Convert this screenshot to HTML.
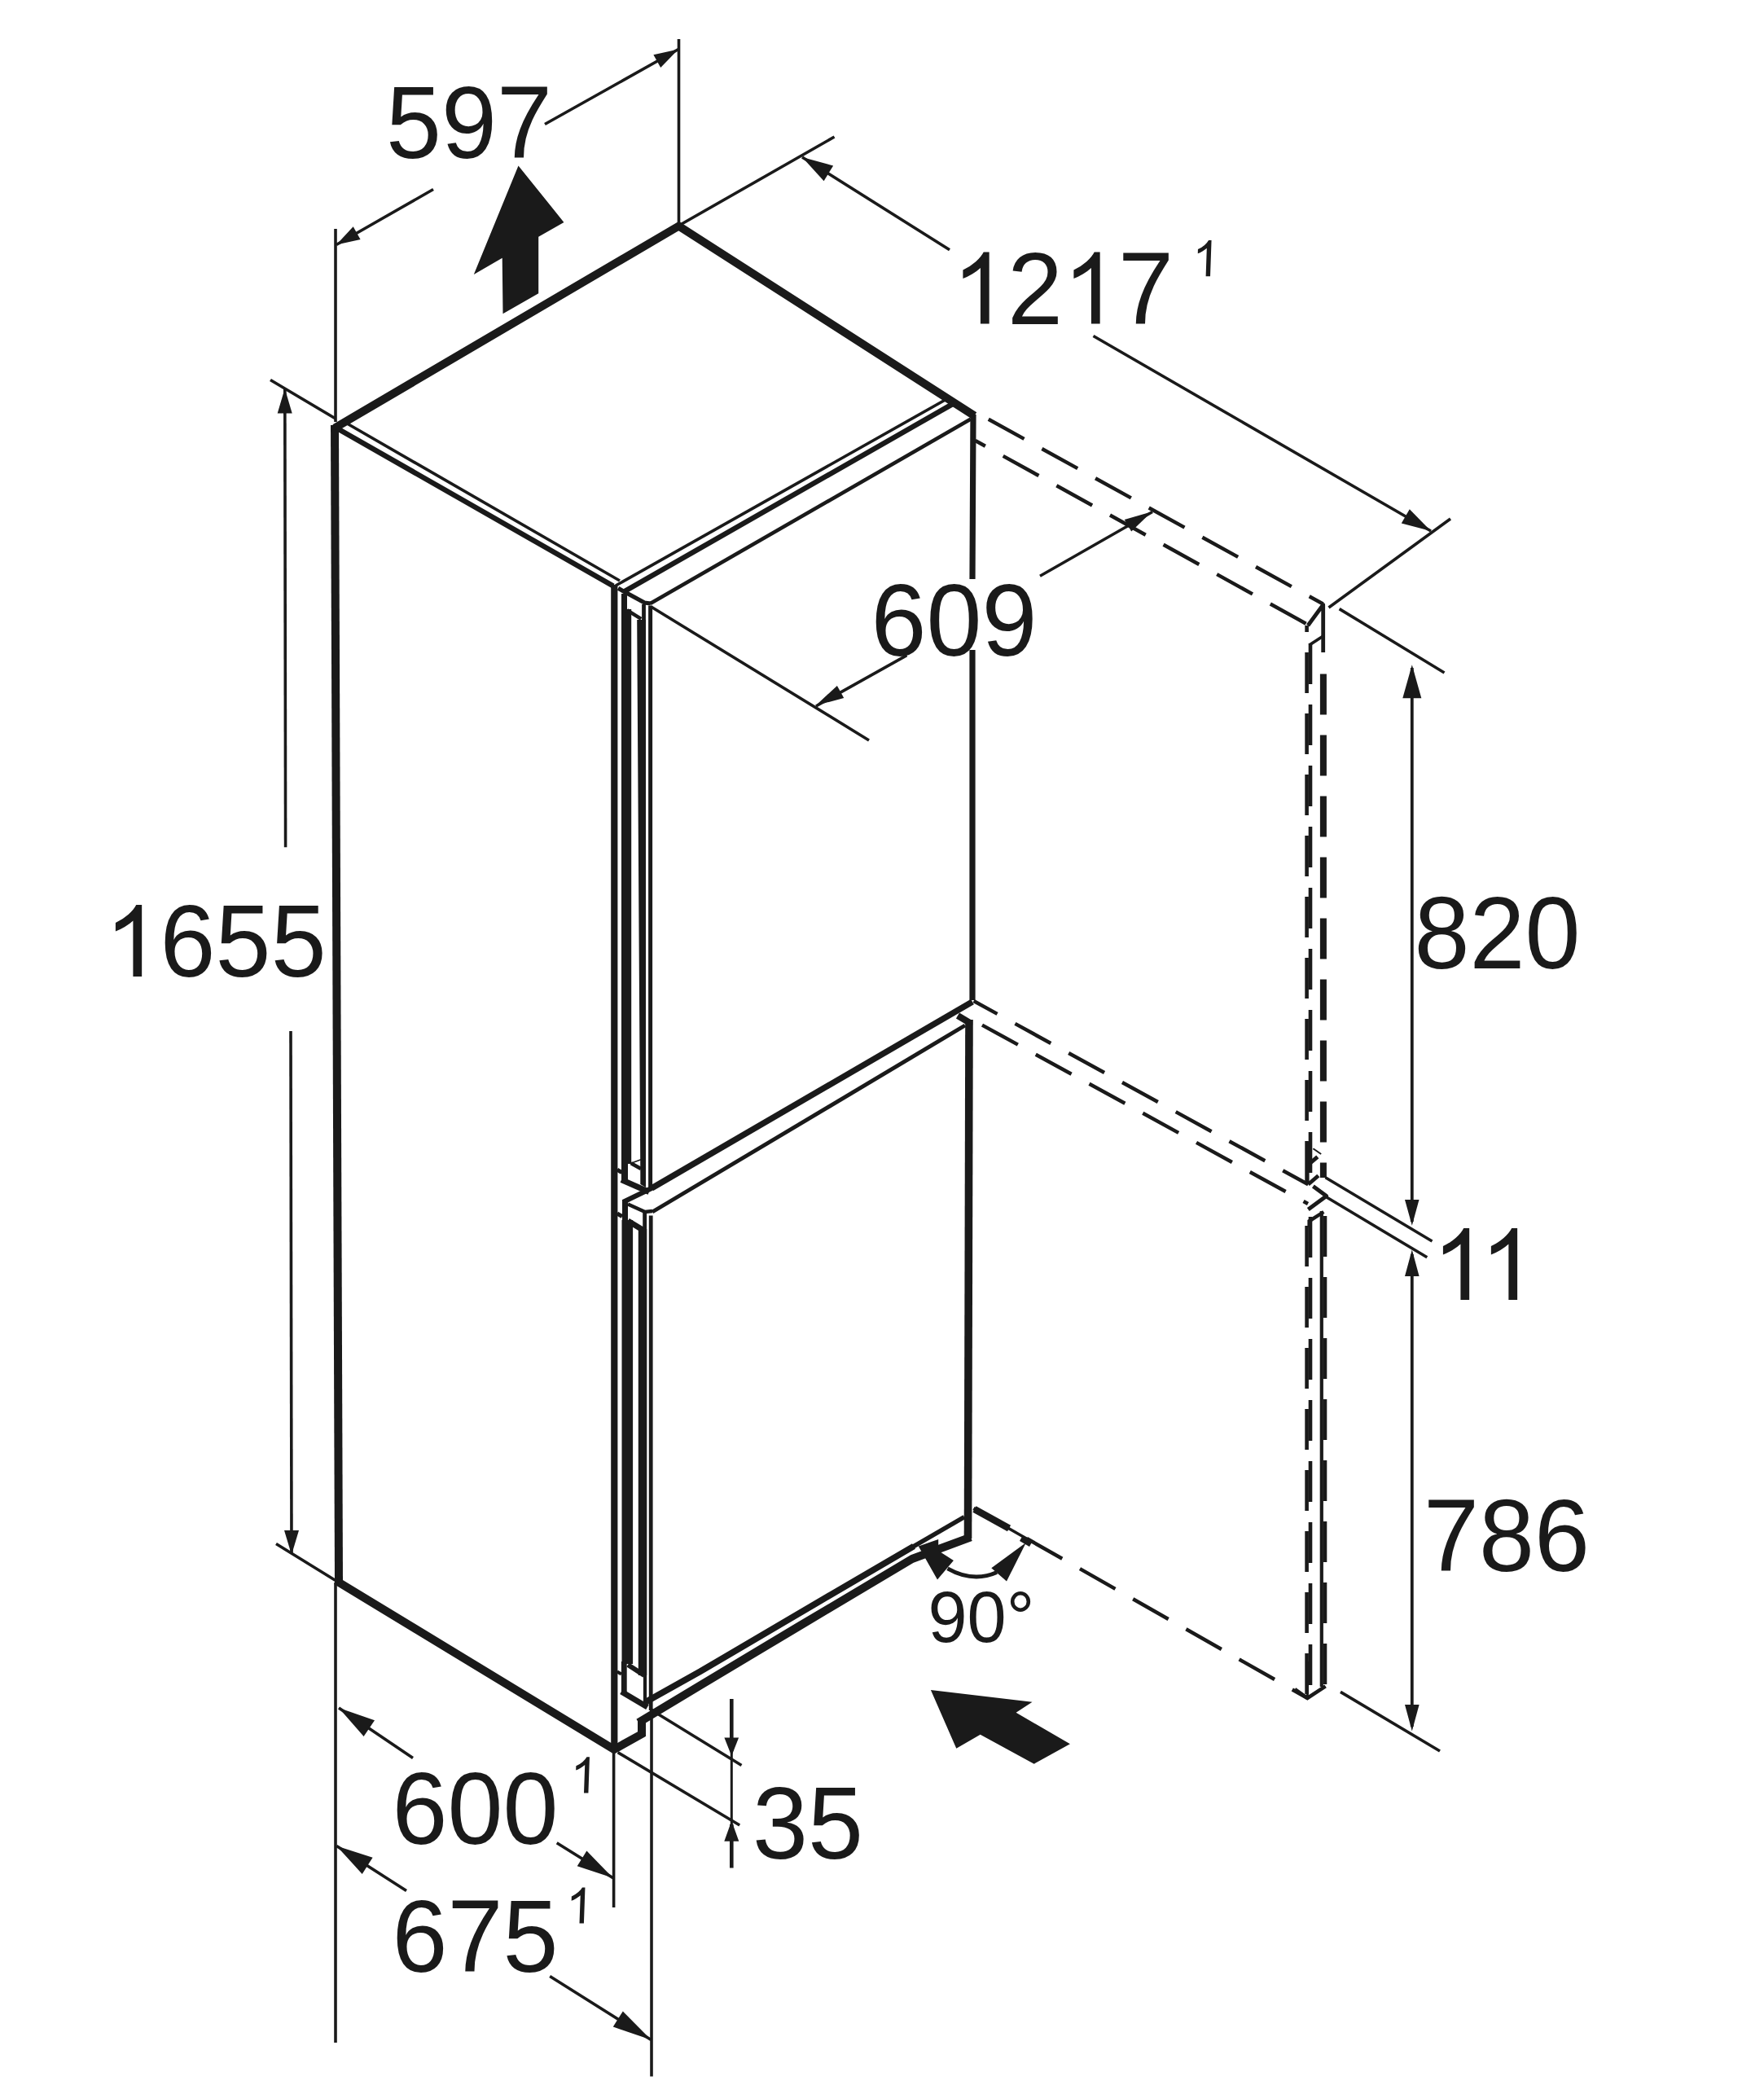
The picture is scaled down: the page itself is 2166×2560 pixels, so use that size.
<!DOCTYPE html>
<html>
<head>
<meta charset="utf-8">
<title>Dimension drawing</title>
<style>
html,body{margin:0;padding:0;background:#fff;}
body{width:2166px;height:2560px;overflow:hidden;}
svg{display:block;}
text{font-family:"Liberation Sans",sans-serif;fill:#1a1a1a;}
.big{font-size:124px;}
.sup{font-size:62px;font-style:italic;}
.t{stroke-width:3.6;}
.m{stroke-width:6.4;}
.k{stroke-width:10;}
.d{stroke-width:4.5;stroke-dasharray:50 25;}
</style>
</head>
<body>
<svg width="2166" height="2560" viewBox="0 0 2166 2560">
<rect width="2166" height="2560" fill="#fff"/>
<g fill="none" stroke="#1a1a1a" stroke-linecap="butt" stroke-linejoin="miter">

<!-- ===== BODY THICK OUTLINE ===== -->
<g id="body">
<path class="k" d="M416 1943 L411 522" stroke-width="9.4"/>
<path class="k" d="M411 525.5 L833.5 277.5 L1196.5 510.5" stroke-width="9.8"/>
<path class="k" d="M413 1941 L754 2148 L790 2128"/>
<path class="k" d="M788 2132 L788 2113" stroke-width="9"/>
<path class="k" d="M784 2115 L860 2069.2 L980 1997.4 L1120 1914 L1192 1887.4" stroke-width="10.2" stroke-linejoin="round"/>
</g>

<!-- ===== TOP FACE / DOOR TOP ===== -->
<g id="top">
<path class="t" d="M421 517 L761 713" stroke-width="3.8"/>
<path class="m" d="M414 526 L753 719.5" stroke-width="5.8"/>
<path class="t" d="M756 719 L1165 488.5"/>
<path class="m" d="M767 726 L1174 493.6"/>
<path d="M798.5 741 L1192 514.5" stroke-width="4.6"/>
<path d="M759 722.3 L791.4 740 L799 741" stroke-width="5.2"/>
</g>

<!-- ===== DOORS FRONT ===== -->
<g id="doors">
<path d="M1195 509 L1194 711 M1194 798 L1194 1228" stroke-width="7.2"/>
<path d="M800 1459 L1194 1230" stroke-width="7.4"/>
<path d="M801 1488 L1185 1259" stroke-width="4.9"/>
<path d="M1176 1247 L1191 1256" stroke-width="8"/>
<path d="M1190 1252 L1188.5 1889" stroke-width="9.6"/>
<path d="M793 2089.6 L860 2052.2 L1000 1969.8 L1122 1898.5" stroke-width="7.8"/>
<path d="M1115 1902.7 L1184 1862.7" stroke-width="5.6"/>
</g>

<!-- ===== LEFT STILE / HANDLES ===== -->
<g id="stile">
<path d="M754.3 718 L754.3 2147" stroke-width="8.2"/>
<!-- upper door -->
<path d="M766.5 729 L766.5 751" stroke-width="7"/>
<path d="M769.1 748 L769.1 1429" stroke-width="12.2"/>
<path d="M767 1427 L767 1451" stroke-width="8"/>
<path d="M769.9 749.1 L787.2 759.9" stroke-width="4.5"/>
<polygon fill="#1a1a1a" stroke="none" points="782.2,761 793,761 793,1458 786.3,1454 786.3,1440"/>
<path d="M790.5 742 L790.5 765" stroke-width="4.8"/>
<path d="M798.6 743.5 L798.6 1462" stroke-width="5"/>
<path d="M763 1448.5 L797 1463.5" stroke-width="7"/>
<path d="M774.8 1428.2 L787 1435" stroke-width="4.5"/>
<path d="M774.8 1428.2 L787 1423.7" stroke-width="1.5"/>
<path d="M757.8 1436.2 L763.5 1439.6" stroke-width="5"/>
<!-- lower door -->
<path d="M765 1476 L800 1459" stroke-width="6"/>
<path d="M767.5 1474 L767.5 1500" stroke-width="7"/>
<path d="M770.3 1498 L770.3 2043" stroke-width="13.6"/>
<path d="M766.3 2040 L766.3 2079" stroke-width="6.8"/>
<path d="M771 1478.5 L792 1488 L801 1487" stroke-width="4.5"/>
<path d="M771 1499 L790 1510.5" stroke-width="7"/>
<path d="M790.5 1488 L790.5 1512" stroke-width="2.5"/>
<path d="M789 1509 L789 2057" stroke-width="10.4"/>
<path d="M792 1489 L792 2092" stroke-width="4.2"/>
<path d="M799.2 1492.5 L799.2 2100" stroke-width="4.8"/>
<path d="M757.8 1490 L764 1493.5" stroke-width="5"/>
<path d="M771 2044 L791 2057" stroke-width="6"/>
<path d="M763 2077 L795 2096" stroke-width="7"/>
<path d="M757.8 2052.5 L763 2055.5" stroke-width="4"/>
</g>

<!-- ===== DASHED OPEN DOOR ===== -->
<g id="dashed">
<path class="d" d="M1198 506 L1624.5 741.5" stroke-dashoffset="57"/>
<path class="d" d="M1197.6 541 L1606 767" stroke-dashoffset="36"/>
<path class="d" d="M1195.6 1229 L1606.3 1454.3" stroke-dashoffset="17"/>
<path class="d" d="M1206 1258.6 L1606 1478" stroke-dashoffset="0"/>
<path class="d" d="M1195.6 1852 L1605.4 2085" stroke-dashoffset="0"/>
<path d="M1196.5 1853 L1239 1876.5" stroke-width="8.5"/>
<path class="t" d="M1195.6 1852 L1262 1890"/>
<!-- upper open door verticals -->
<path d="M1606 768 L1624.7 742.5 L1624.7 801" stroke-width="4.8" stroke-linejoin="round"/>
<path d="M1607.7 792 L1624.7 781" stroke-width="3.8"/>
<path d="M1624.9 827.5 L1624.9 1446" stroke-width="8" stroke-dasharray="50 25"/>
<path d="M1604.6 768 L1604.6 1455" stroke-width="4.6" stroke-dasharray="50 25" stroke-dashoffset="42"/>
<path d="M1609 790 L1609 1450" stroke-width="4.6" stroke-dasharray="50 25" stroke-dashoffset="0"/>
<path d="M1605.5 1402 L1605.5 1454" stroke-width="4.2"/>
<path d="M1608 1428.6 L1617.8 1420.4" stroke-width="5"/>
<path d="M1612.4 1410.2 L1622.2 1417" stroke-width="2"/>
<path d="M1606.3 1454.3 L1618.8 1443.5" stroke-width="4.8"/>
<path d="M1612.4 1456.5 L1628.7 1468.5 L1606.3 1485" stroke-width="4.8" stroke-linejoin="round"/>
<!-- lower open door verticals -->
<path d="M1607.6 1507 L1607.6 1499.3 L1625.3 1488" stroke-width="4.4"/>
<path d="M1622.8 1487 L1622.8 2071" stroke-width="4.2"/>
<path d="M1627 1493 L1627 2070" stroke-width="4.6" stroke-dasharray="50 25"/>
<path d="M1604.6 1505 L1604.6 2085" stroke-width="4.6" stroke-dasharray="50 25"/>
<path d="M1609 1494 L1609 2080" stroke-width="4.6" stroke-dasharray="50 25"/>
<path d="M1590 2074 L1605.4 2085 L1627.6 2070.3" stroke-width="4.5"/>
<path d="M1605.4 2085 L1605.4 2040" stroke-width="3"/>
</g>

<!-- ===== DIMENSION LINES (thin) ===== -->
<g id="dims" class="t">
<!-- 597 -->
<path d="M833.5 48 L833.5 276"/>
<path d="M412 281 L412 518"/>
<path d="M669 152.5 L833 60.5"/>
<path d="M413 300.5 L532 232.5"/>
<!-- 1217 -->
<path d="M833.5 277 L1024.5 168"/>
<path d="M985 193 L1166 306.7"/>
<path d="M1342.5 412.5 L1757 652"/>
<path d="M1781 637 L1631.5 746"/>
<!-- 609 -->
<path d="M799.5 745 L1067 909"/>
<path d="M1002 867 L1113.4 804.6"/>
<path d="M1277 707.3 L1415 628.5"/>
<!-- 1655 -->
<path d="M332 466.5 L412 514"/>
<path d="M349.8 478 L350.6 1040.3"/>
<path d="M357 1266 L358 1908"/>
<path d="M339 1895.5 L416 1943"/>
<!-- right side -->
<path d="M1644.6 747.6 L1773.5 826"/>
<path d="M1733.8 820 L1733.8 1500" stroke-width="3.8"/>
<path d="M1627.5 1445.8 L1758.5 1524"/>
<path d="M1629 1470 L1752.3 1543.8"/>
<path d="M1733.8 1540 L1733.8 2120" stroke-width="3.8"/>
<path d="M1646 2077.4 L1768 2150"/>
<!-- bottom -->
<path d="M412 1943 L412 2508"/>
<path d="M753.6 2151 L753.6 2342"/>
<path d="M800 2098 L800 2549.5"/>
<path d="M416 2097 L507 2158.4"/>
<path d="M683.7 2262.7 L752.7 2305.8"/>
<path d="M413.3 2266.5 L499 2321.6"/>
<path d="M675.2 2426.4 L799.4 2504.6"/>
<!-- 35 -->
<path d="M799 2099 L910.5 2167.5"/>
<path d="M758.6 2151.6 L908.2 2241"/>
<path d="M898.3 2086 L898.3 2150" stroke-width="4.6"/>
<path d="M898.3 2150 L898.3 2240" stroke-width="3"/>
<path d="M898.3 2240 L898.3 2293.5" stroke-width="4.6"/>
</g>

<!-- ===== ARC 90 ===== -->
<path d="M1163.5 1925.8 Q1195 1943.5 1224 1930.5" stroke-width="4.8"/>
</g>

<!-- ===== ARROWHEADS & SOLID SHAPES ===== -->
<g fill="#1a1a1a" stroke="none">
<polygon points="833.0,60.5 811.2,83.0 802.4,67.3"/>
<polygon points="413.0,300.5 433.7,278.3 442.6,293.9"/>
<polygon points="985.0,193.0 1023.1,203.5 1011.6,222.2"/>
<polygon points="1757.0,652.0 1720.8,642.6 1730.8,625.3"/>
<polygon points="1001.4,866.4 1027.9,842.0 1036.2,856.9"/>
<polygon points="1414.4,628.3 1389.2,652.6 1380.7,637.9"/>
<polygon points="349.7,477.0 358.7,507.5 340.7,507.5"/>
<polygon points="358.0,1909.0 349.0,1879.0 367.0,1879.0"/>
<polygon points="1733.8,816.2 1745.3,857.2 1722.3,857.2"/>
<polygon points="1733.8,1504.7 1725.0,1473.0 1742.5,1473.0"/>
<polygon points="1733.8,1534.5 1742.6,1567.0 1725.0,1567.0"/>
<polygon points="1733.8,2125.6 1725.0,2093.0 1742.6,2093.0"/>
<polygon points="416.0,2097.0 460.0,2112.2 446.6,2132.1"/>
<polygon points="752.7,2305.8 708.7,2291.3 720.4,2272.6"/>
<polygon points="413.3,2266.5 457.6,2280.7 444.7,2300.9"/>
<polygon points="799.4,2504.6 752.8,2488.6 764.8,2469.5"/>
<polygon points="898.3,2156.0 889.4,2133.6 907.1,2133.6"/>
<polygon points="898.3,2235.8 907.3,2260.8 889.3,2260.8"/>
<polygon points="1127.8,1898.5 1152.2,1890 1152.2,1904 1170.9,1916.1 1151,1939.4"/>
<polygon points="1259.9,1894 1217.3,1925.2 1236,1941.6"/>
<polygon points="1256,1885 1268,1892 1264,1899 1252,1892"/>
<!-- big arrows -->
<polygon points="636.5,203.5 692.4,272.9 661.2,290.8 661.2,360.2 617.5,385.2 616.7,316.8 581.8,337"/>
<polygon points="1142.9,2074.9 1267.5,2089.7 1247.6,2102.8 1313.9,2141.3 1269.7,2165.7 1203.7,2129.7 1174.3,2146.7"/>
</g>

<!-- ===== TEXT ===== -->
<g fill="#1a1a1a">
<text transform="translate(474.00,193.70) scale(1,1.027)" style="font-size:122.3px">597</text>
<path transform="translate(1169.10,397.50) scale(0.05972,-0.05972)" d="M763 0H583V1147Q518 1085 412.5 1023Q307 961 223 930V1104Q374 1175 487 1276Q600 1377 647 1472H763Z"/>
<text transform="translate(1237.10,397.50) scale(1,1.027)" style="font-size:122.3px">2</text>
<path transform="translate(1305.10,397.50) scale(0.05972,-0.05972)" d="M763 0H583V1147Q518 1085 412.5 1023Q307 961 223 930V1104Q374 1175 487 1276Q600 1377 647 1472H763Z"/>
<text transform="translate(1373.10,397.50) scale(1,1.027)" style="font-size:122.3px">7</text>
<path transform="translate(1463.10,339.20) skewX(-2) scale(0.03003,-0.03003)" d="M763 0H583V1147Q518 1085 412.5 1023Q307 961 223 930V1104Q374 1175 487 1276Q600 1377 647 1472H763Z"/>
<text transform="translate(1069.50,804.80) scale(1,1.027)" style="font-size:122.3px">609</text>
<path transform="translate(128.60,1199.00) scale(0.05972,-0.05972)" d="M763 0H583V1147Q518 1085 412.5 1023Q307 961 223 930V1104Q374 1175 487 1276Q600 1377 647 1472H763Z"/>
<text transform="translate(196.60,1199.00) scale(1,1.027)" style="font-size:122.3px">655</text>
<text transform="translate(1736.50,1188.80) scale(1,1.027)" style="font-size:122.3px">820</text>
<path transform="translate(1758.60,1596.00) scale(0.05972,-0.05972)" d="M763 0H583V1147Q518 1085 412.5 1023Q307 961 223 930V1104Q374 1175 487 1276Q600 1377 647 1472H763Z"/>
<path transform="translate(1817.55,1596.00) scale(0.05972,-0.05972)" d="M763 0H583V1147Q518 1085 412.5 1023Q307 961 223 930V1104Q374 1175 487 1276Q600 1377 647 1472H763Z"/>
<text transform="translate(1748.00,1928.50) scale(1,1.027)" style="font-size:122.3px">786</text>
<text transform="translate(481.50,2263.50) scale(1,1.027)" style="font-size:122.3px">600</text>
<path transform="translate(699.50,2201.50) skewX(-2) scale(0.03003,-0.03003)" d="M763 0H583V1147Q518 1085 412.5 1023Q307 961 223 930V1104Q374 1175 487 1276Q600 1377 647 1472H763Z"/>
<text transform="translate(481.50,2420.80) scale(1,1.027)" style="font-size:122.3px">675</text>
<path transform="translate(694.00,2361.60) skewX(-2) scale(0.03003,-0.03003)" d="M763 0H583V1147Q518 1085 412.5 1023Q307 961 223 930V1104Q374 1175 487 1276Q600 1377 647 1472H763Z"/>
<text transform="translate(924.00,2281.50) scale(1,1.027)" style="font-size:122.3px">35</text>
<text transform="translate(1139.50,2015.80) scale(1,1.027)" style="font-size:86.5px">90°</text>
</g>
</svg>
</body>
</html>
